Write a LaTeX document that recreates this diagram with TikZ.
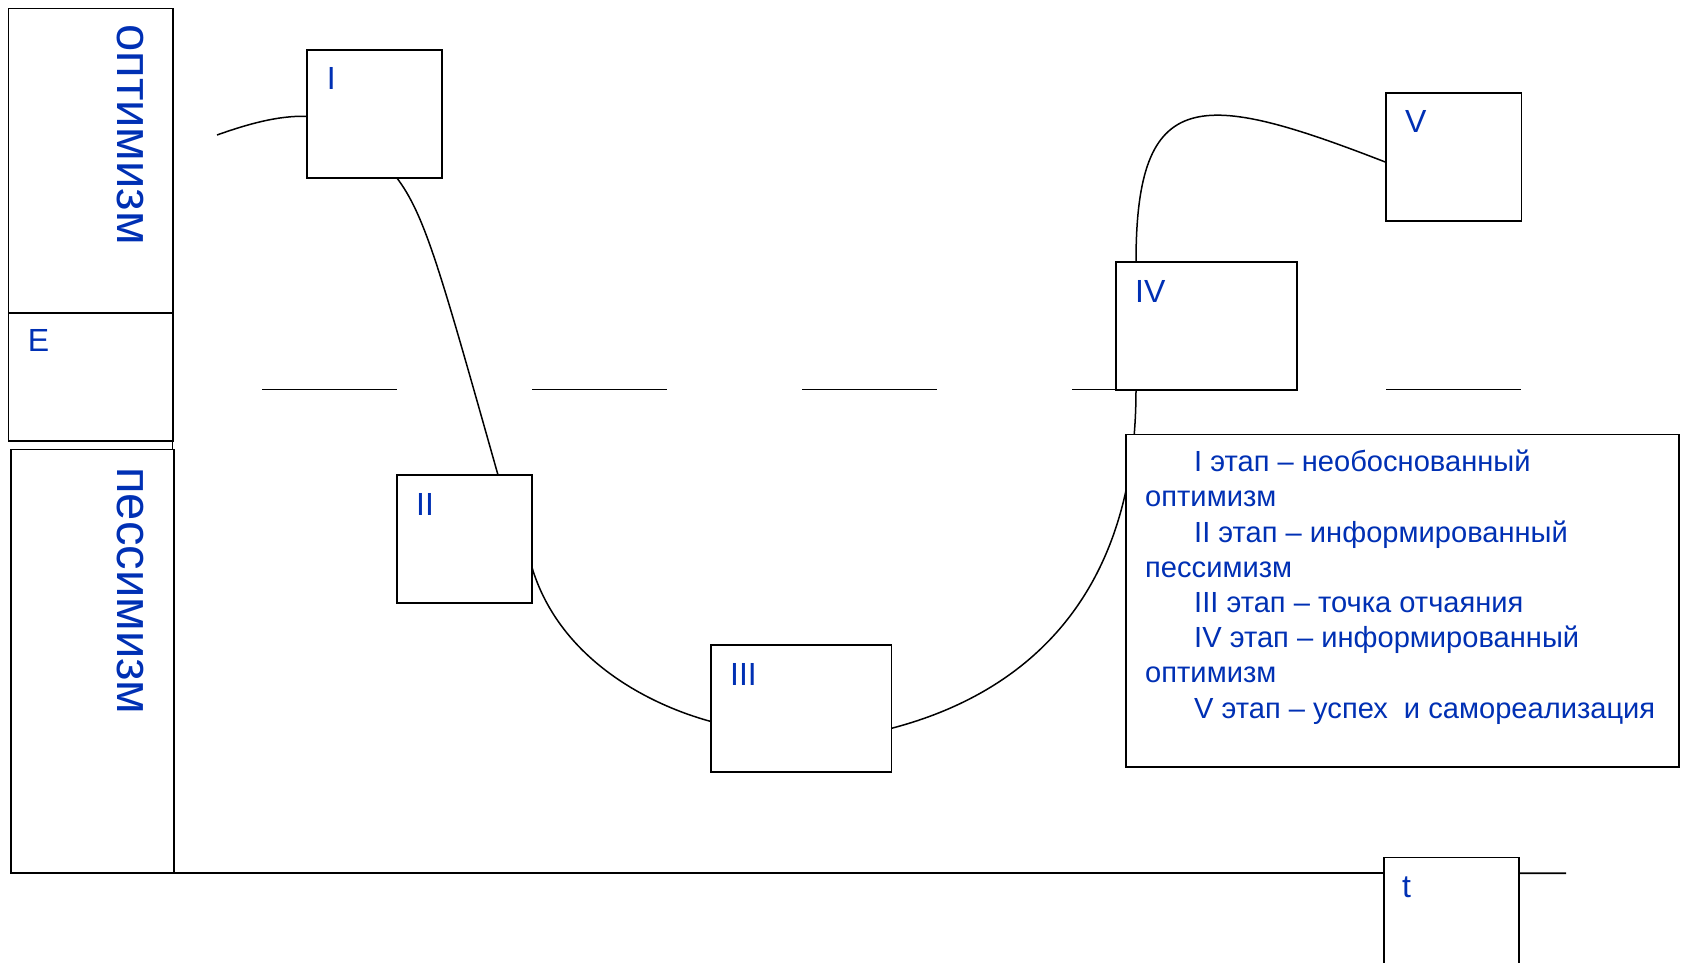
\documentclass[tikz,border=0pt]{standalone}
\usepackage{fontspec}
\setmainfont{Liberation Sans}
\usetikzlibrary{calc}
\definecolor{inkblue}{RGB}{0,48,180}
\tikzset{
  box/.style={draw, line width=1.7pt, fill=white, inner sep=0pt, outer sep=0pt, anchor=north west},
  tag/.style={text=inkblue, font=\fontsize{32}{38}\selectfont, inner sep=0pt, anchor=base west},
  vword/.style={text=inkblue, font=\fontsize{49}{58}\selectfont, inner sep=0pt, anchor=base west, rotate=-90},
  legtext/.style={text=inkblue, font=\fontsize{29.1}{35.2}\selectfont, inner sep=0pt, anchor=base west, align=left},
  curve/.style={line width=1.5pt},
  level/.style={line width=1.5pt},
  axis/.style={line width=1.7pt},
}
\begin{document}
\begin{tikzpicture}[x=1pt,y=-1pt]
\useasboundingbox (0,0) rectangle (1682,963);
\clip (0,0) rectangle (1682,963);
\fill[white] (0,0) rectangle (1682,963);

% vertical scale: optimism / E / pessimism
\node[box, minimum width=164.1pt, minimum height=304.6pt] (opt) at (8.6,8.6) {};
\node[box, minimum width=164.1pt, minimum height=127.8pt,
      label={[tag, xshift=19pt, yshift=-38.5pt]north west:E}] (ebox) at (8.6,313.2) {};
\node[box, minimum width=163.1pt, minimum height=423.7pt] (pess) at (10.7,449.5) {};
\draw[level] (ebox.south east) -- (ebox.south east |- pess.north);
\node[vword] (optword) at (117,24) {оптимизм};
\node[vword] (pessword) at (117,467) {пессимизм};

% level line
\draw[level] (262,389.5) -- (397,389.5);
\draw[level] (532,389.5) -- (667,389.5);
\draw[level] (802,389.5) -- (937,389.5);
\draw[level] (1072,389.5) -- (1116,389.5);
\draw[level] (1386,389.5) -- (1521,389.5);

% time axis
\node[box, minimum width=135pt, minimum height=140pt,
      label={[tag, xshift=18pt, yshift=-39.5pt]north west:t}] (tbox) at (1384,857.5) {};
\coordinate (axisend) at (1566,873.2);
\draw[axis] (pess.south east) -- (tbox.west |- pess.south east);
\draw[axis] (tbox.east |- pess.south east) -- (axisend);

% stages
\node[box, minimum width=135.6pt, minimum height=127.4pt,
      label={[tag, xshift=20pt, yshift=-39pt]north west:I}] (s1) at (306.7,50.3) {};
\node[box, minimum width=135pt, minimum height=128pt,
      label={[tag, xshift=19pt, yshift=-40pt]north west:II}] (s2) at (397,475) {};
\node[box, minimum width=180.5pt, minimum height=127pt,
      label={[tag, xshift=19pt, yshift=-40pt]north west:III}] (s3) at (711,645) {};
\node[box, minimum width=181pt, minimum height=128pt,
      label={[tag, xshift=19pt, yshift=-40pt]north west:IV}] (s4) at (1116,262) {};
\node[box, minimum width=135.5pt, minimum height=128pt,
      label={[tag, xshift=19pt, yshift=-40pt]north west:V}] (s5) at (1386,92.7) {};

% the curve through the stages
\coordinate (start) at (217,135);
\draw[curve] (start) .. controls (248,124) and (278,115.5) .. ($(s1.north west)+(0,66)$);
\draw[curve] ($(s1.south west)+(90,0)$) .. controls (425,215) and (440,270) .. ($(s2.north west)+(101,0)$);
\draw[curve] ($(s2.north east)+(0,92.5)$) .. controls (560,660) and (650,705) .. ($(s3.north west)+(0,76.5)$);
\draw[curve] ($(s3.north east)+(0,83.3)$) .. controls (1000,700) and (1136,620) .. ($(s4.south west)+(20,0)$);
\draw[curve] ($(s4.north west)+(20,0)$) .. controls (1136,85) and (1200,90) .. ($(s5.north west)+(0,69.6)$);

% legend
\node[box, minimum width=553pt, minimum height=332.5pt] (legend) at (1126,434.5) {};
\node[legtext] (legendtext) at (1145,718) {%
\hspace*{49pt}I этап – необоснованный\\
оптимизм\\
\hspace*{49pt}II этап – информированный\\
пессимизм\\
\hspace*{49pt}III этап – точка отчаяния\\
\hspace*{49pt}IV этап – информированный\\
оптимизм\\
\hspace*{49pt}V этап – успех\ \ и самореализация};
\end{tikzpicture}
\end{document}
